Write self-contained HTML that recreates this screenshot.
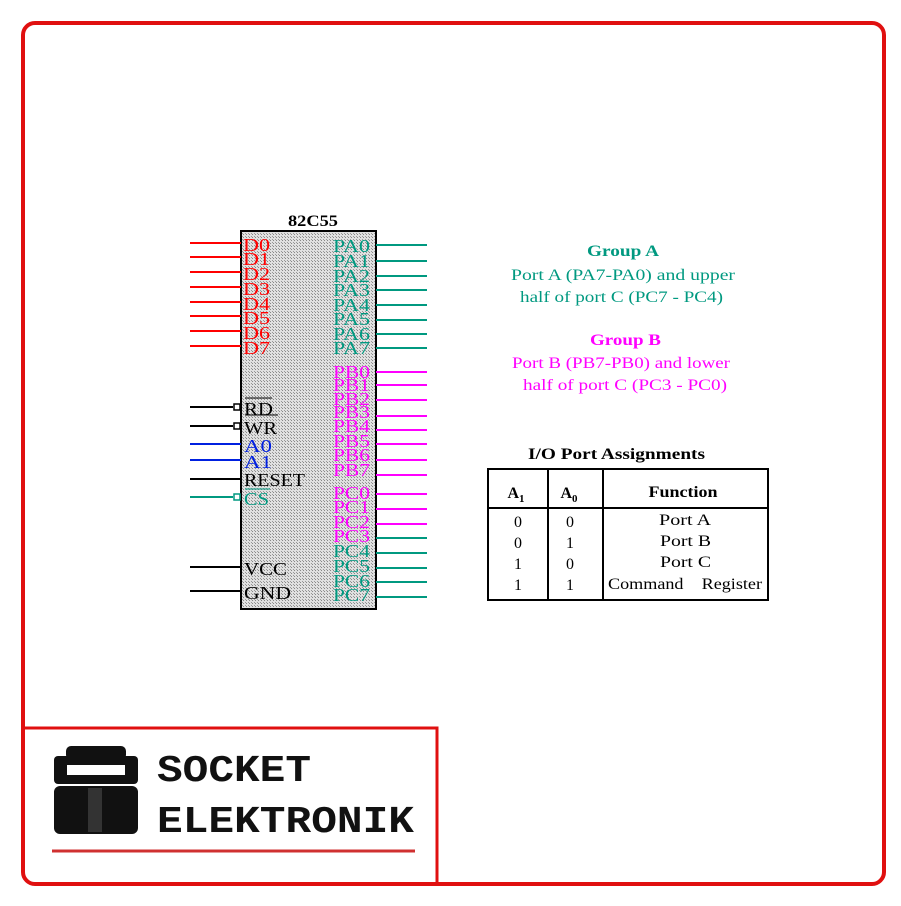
<!DOCTYPE html>
<html><head><style>body{margin:0;background:#fff}</style></head><body>
<svg width="901" height="901" viewBox="0 0 901 901" xmlns="http://www.w3.org/2000/svg" font-family="Liberation Serif, serif">
<defs>
<pattern id="h" width="3" height="3" patternUnits="userSpaceOnUse">
<rect width="3" height="3" fill="#e0e0e0"/><rect width="1" height="1" fill="#888"/><rect x="2" y="2" width="1" height="1" fill="#999"/>
</pattern>
</defs>
<rect x="0" y="0" width="901" height="901" fill="#fff"/>
<rect x="23" y="23" width="861" height="861" rx="12" fill="none" stroke="#e01010" stroke-width="4"/>
<text x="288" y="226" font-size="16" font-weight="bold" textLength="50" lengthAdjust="spacingAndGlyphs">82C55</text>
<rect x="241" y="231" width="135" height="378" fill="url(#h)" stroke="#000" stroke-width="2"/>
<g stroke="#f00" stroke-width="2">
<line x1="190" y1="243" x2="241" y2="243"/><line x1="190" y1="257" x2="241" y2="257"/><line x1="190" y1="272" x2="241" y2="272"/><line x1="190" y1="287" x2="241" y2="287"/><line x1="190" y1="302" x2="241" y2="302"/><line x1="190" y1="316" x2="241" y2="316"/><line x1="190" y1="331" x2="241" y2="331"/><line x1="190" y1="346" x2="241" y2="346"/>
</g>
<g fill="#f00" font-size="18" lengthAdjust="spacingAndGlyphs">
<text x="243" y="251" textLength="27" lengthAdjust="spacingAndGlyphs">D0</text><text x="243" y="265" textLength="27" lengthAdjust="spacingAndGlyphs">D1</text><text x="243" y="280" textLength="27" lengthAdjust="spacingAndGlyphs">D2</text><text x="243" y="295" textLength="27" lengthAdjust="spacingAndGlyphs">D3</text><text x="243" y="310" textLength="27" lengthAdjust="spacingAndGlyphs">D4</text><text x="243" y="324" textLength="27" lengthAdjust="spacingAndGlyphs">D5</text><text x="243" y="339" textLength="27" lengthAdjust="spacingAndGlyphs">D6</text><text x="243" y="354" textLength="27" lengthAdjust="spacingAndGlyphs">D7</text>
</g>
<g stroke="#000" stroke-width="2"><line x1="190" y1="407" x2="233" y2="407"/><line x1="190" y1="426" x2="233" y2="426"/><line x1="190" y1="479" x2="241" y2="479"/><line x1="190" y1="567" x2="241" y2="567"/><line x1="190" y1="591" x2="241" y2="591"/></g>
<g fill="#fff" stroke="#000" stroke-width="1.5"><rect x="234" y="404" width="6" height="6"/><rect x="234" y="423" width="6" height="6"/></g>
<g stroke="#0020e0" stroke-width="2"><line x1="190" y1="444" x2="241" y2="444"/><line x1="190" y1="460" x2="241" y2="460"/></g>
<line x1="190" y1="497" x2="233" y2="497" stroke="#009980" stroke-width="2"/>
<rect x="234" y="494" width="6" height="6" fill="#fff" stroke="#009980" stroke-width="1.5"/>
<g font-size="18">
<text x="244" y="415" textLength="29" lengthAdjust="spacingAndGlyphs">RD</text><line x1="245" y1="398" x2="272" y2="398" stroke="#000"/><line x1="245" y1="415" x2="278" y2="415" stroke="#000"/>
<text x="244" y="434" textLength="33" lengthAdjust="spacingAndGlyphs">WR</text>
<text x="244" y="452" fill="#0020e0" textLength="28" lengthAdjust="spacingAndGlyphs">A0</text><text x="244" y="468" fill="#0020e0" textLength="28" lengthAdjust="spacingAndGlyphs">A1</text>
<text x="244" y="486" textLength="61" lengthAdjust="spacingAndGlyphs">RESET</text>
<text x="244" y="505" fill="#009980" textLength="25" lengthAdjust="spacingAndGlyphs">CS</text><line x1="245" y1="489" x2="270" y2="489" stroke="#009980"/>
<text x="244" y="575" textLength="43" lengthAdjust="spacingAndGlyphs">VCC</text><text x="244" y="599" textLength="47" lengthAdjust="spacingAndGlyphs">GND</text>
</g>
<g stroke="#009980" stroke-width="2">
<line x1="376" y1="245" x2="427" y2="245"/><line x1="376" y1="261" x2="427" y2="261"/><line x1="376" y1="276" x2="427" y2="276"/><line x1="376" y1="290" x2="427" y2="290"/><line x1="376" y1="305" x2="427" y2="305"/><line x1="376" y1="320" x2="427" y2="320"/><line x1="376" y1="334" x2="427" y2="334"/><line x1="376" y1="348" x2="427" y2="348"/>
<line x1="376" y1="538" x2="427" y2="538"/><line x1="376" y1="553" x2="427" y2="553"/><line x1="376" y1="568" x2="427" y2="568"/><line x1="376" y1="582" x2="427" y2="582"/><line x1="376" y1="597" x2="427" y2="597"/>
</g>
<g stroke="#f0f" stroke-width="2">
<line x1="376" y1="372" x2="427" y2="372"/><line x1="376" y1="385" x2="427" y2="385"/><line x1="376" y1="400" x2="427" y2="400"/><line x1="376" y1="416" x2="427" y2="416"/><line x1="376" y1="430" x2="427" y2="430"/><line x1="376" y1="444" x2="427" y2="444"/><line x1="376" y1="460" x2="427" y2="460"/><line x1="376" y1="475" x2="427" y2="475"/>
<line x1="376" y1="494" x2="427" y2="494"/><line x1="376" y1="509" x2="427" y2="509"/><line x1="376" y1="524" x2="427" y2="524"/>
</g>
<g font-size="18">
<g fill="#009980"><text x="333" y="252" textLength="37" lengthAdjust="spacingAndGlyphs">PA0</text><text x="333" y="267" textLength="37" lengthAdjust="spacingAndGlyphs">PA1</text><text x="333" y="282" textLength="37" lengthAdjust="spacingAndGlyphs">PA2</text><text x="333" y="296" textLength="37" lengthAdjust="spacingAndGlyphs">PA3</text><text x="333" y="311" textLength="37" lengthAdjust="spacingAndGlyphs">PA4</text><text x="333" y="325" textLength="37" lengthAdjust="spacingAndGlyphs">PA5</text><text x="333" y="340" textLength="37" lengthAdjust="spacingAndGlyphs">PA6</text><text x="333" y="354" textLength="37" lengthAdjust="spacingAndGlyphs">PA7</text>
<text x="333" y="557" textLength="37" lengthAdjust="spacingAndGlyphs">PC4</text><text x="333" y="572" textLength="37" lengthAdjust="spacingAndGlyphs">PC5</text><text x="333" y="587" textLength="37" lengthAdjust="spacingAndGlyphs">PC6</text><text x="333" y="601" textLength="37" lengthAdjust="spacingAndGlyphs">PC7</text></g>
<g fill="#f0f"><text x="333" y="378" textLength="37" lengthAdjust="spacingAndGlyphs">PB0</text><text x="333" y="391" textLength="37" lengthAdjust="spacingAndGlyphs">PB1</text><text x="333" y="405" textLength="37" lengthAdjust="spacingAndGlyphs">PB2</text><text x="333" y="418" textLength="37" lengthAdjust="spacingAndGlyphs">PB3</text><text x="333" y="432" textLength="37" lengthAdjust="spacingAndGlyphs">PB4</text><text x="333" y="447" textLength="37" lengthAdjust="spacingAndGlyphs">PB5</text><text x="333" y="461" textLength="37" lengthAdjust="spacingAndGlyphs">PB6</text><text x="333" y="476" textLength="37" lengthAdjust="spacingAndGlyphs">PB7</text>
<text x="333" y="499" textLength="37" lengthAdjust="spacingAndGlyphs">PC0</text><text x="333" y="513" textLength="37" lengthAdjust="spacingAndGlyphs">PC1</text><text x="333" y="528" textLength="37" lengthAdjust="spacingAndGlyphs">PC2</text><text x="333" y="542" textLength="37" lengthAdjust="spacingAndGlyphs">PC3</text></g>
</g>
<g font-size="16">
<text x="587" y="256" fill="#009980" font-weight="bold" textLength="72" lengthAdjust="spacingAndGlyphs">Group  A</text>
<text x="511" y="280" fill="#009980" textLength="224" lengthAdjust="spacingAndGlyphs">Port A (PA7-PA0) and upper</text>
<text x="520" y="302" fill="#009980" textLength="203" lengthAdjust="spacingAndGlyphs">half of port C (PC7 - PC4)</text>
<text x="590" y="345" fill="#f0f" font-weight="bold" textLength="71" lengthAdjust="spacingAndGlyphs">Group  B</text>
<text x="512" y="368" fill="#f0f" textLength="218" lengthAdjust="spacingAndGlyphs">Port B (PB7-PB0) and lower</text>
<text x="523" y="390" fill="#f0f" textLength="204" lengthAdjust="spacingAndGlyphs">half of port C (PC3 - PC0)</text>
<text x="528" y="459" font-weight="bold" textLength="177" lengthAdjust="spacingAndGlyphs">I/O  Port  Assignments</text>
</g>
<g stroke="#000" stroke-width="2" fill="none">
<rect x="488" y="469" width="280" height="131"/>
<line x1="548" y1="469" x2="548" y2="600"/><line x1="603" y1="469" x2="603" y2="600"/>
<line x1="488" y1="508" x2="768" y2="508"/>
</g>
<g font-size="16" text-anchor="middle">
<text x="516" y="498" font-weight="bold">A<tspan font-size="11" dy="4">1</tspan></text>
<text x="569" y="498" font-weight="bold">A<tspan font-size="11" dy="4">0</tspan></text>
<text x="683" y="497" font-weight="bold" textLength="69" lengthAdjust="spacingAndGlyphs">Function</text>
<text x="518" y="527">0</text><text x="518" y="548">0</text><text x="518" y="569">1</text><text x="518" y="590">1</text>
<text x="570" y="527">0</text><text x="570" y="548">1</text><text x="570" y="569">0</text><text x="570" y="590">1</text>
</g>
<g font-size="16">
<text x="659" y="525" textLength="52" lengthAdjust="spacingAndGlyphs">Port  A</text><text x="660" y="546" textLength="51" lengthAdjust="spacingAndGlyphs">Port  B</text><text x="660" y="567" textLength="51" lengthAdjust="spacingAndGlyphs">Port  C</text>
<text x="608" y="589" textLength="154" lengthAdjust="spacingAndGlyphs" xml:space="preserve">Command    Register</text>
</g>
<path d="M24 728 H437 V882" fill="none" stroke="#e01010" stroke-width="3"/>
<g fill="#111">
<rect x="66" y="746" width="60" height="14" rx="5"/>
<rect x="54" y="756" width="84" height="28" rx="4"/>
<rect x="54" y="786" width="84" height="48" rx="6"/>
</g>
<rect x="67" y="765" width="58" height="10" fill="#fff"/>
<rect x="88" y="788" width="14" height="44" fill="#333"/>
<g font-family="Liberation Mono, monospace" font-weight="bold" font-size="38" fill="#111">
<text x="157" y="781" textLength="154" lengthAdjust="spacingAndGlyphs">SOCKET</text><text x="157" y="832" textLength="257" lengthAdjust="spacingAndGlyphs">ELEKTRONIK</text>
</g>
<line x1="52" y1="851" x2="415" y2="851" stroke="#d03030" stroke-width="3"/>
</svg>
</body></html>
